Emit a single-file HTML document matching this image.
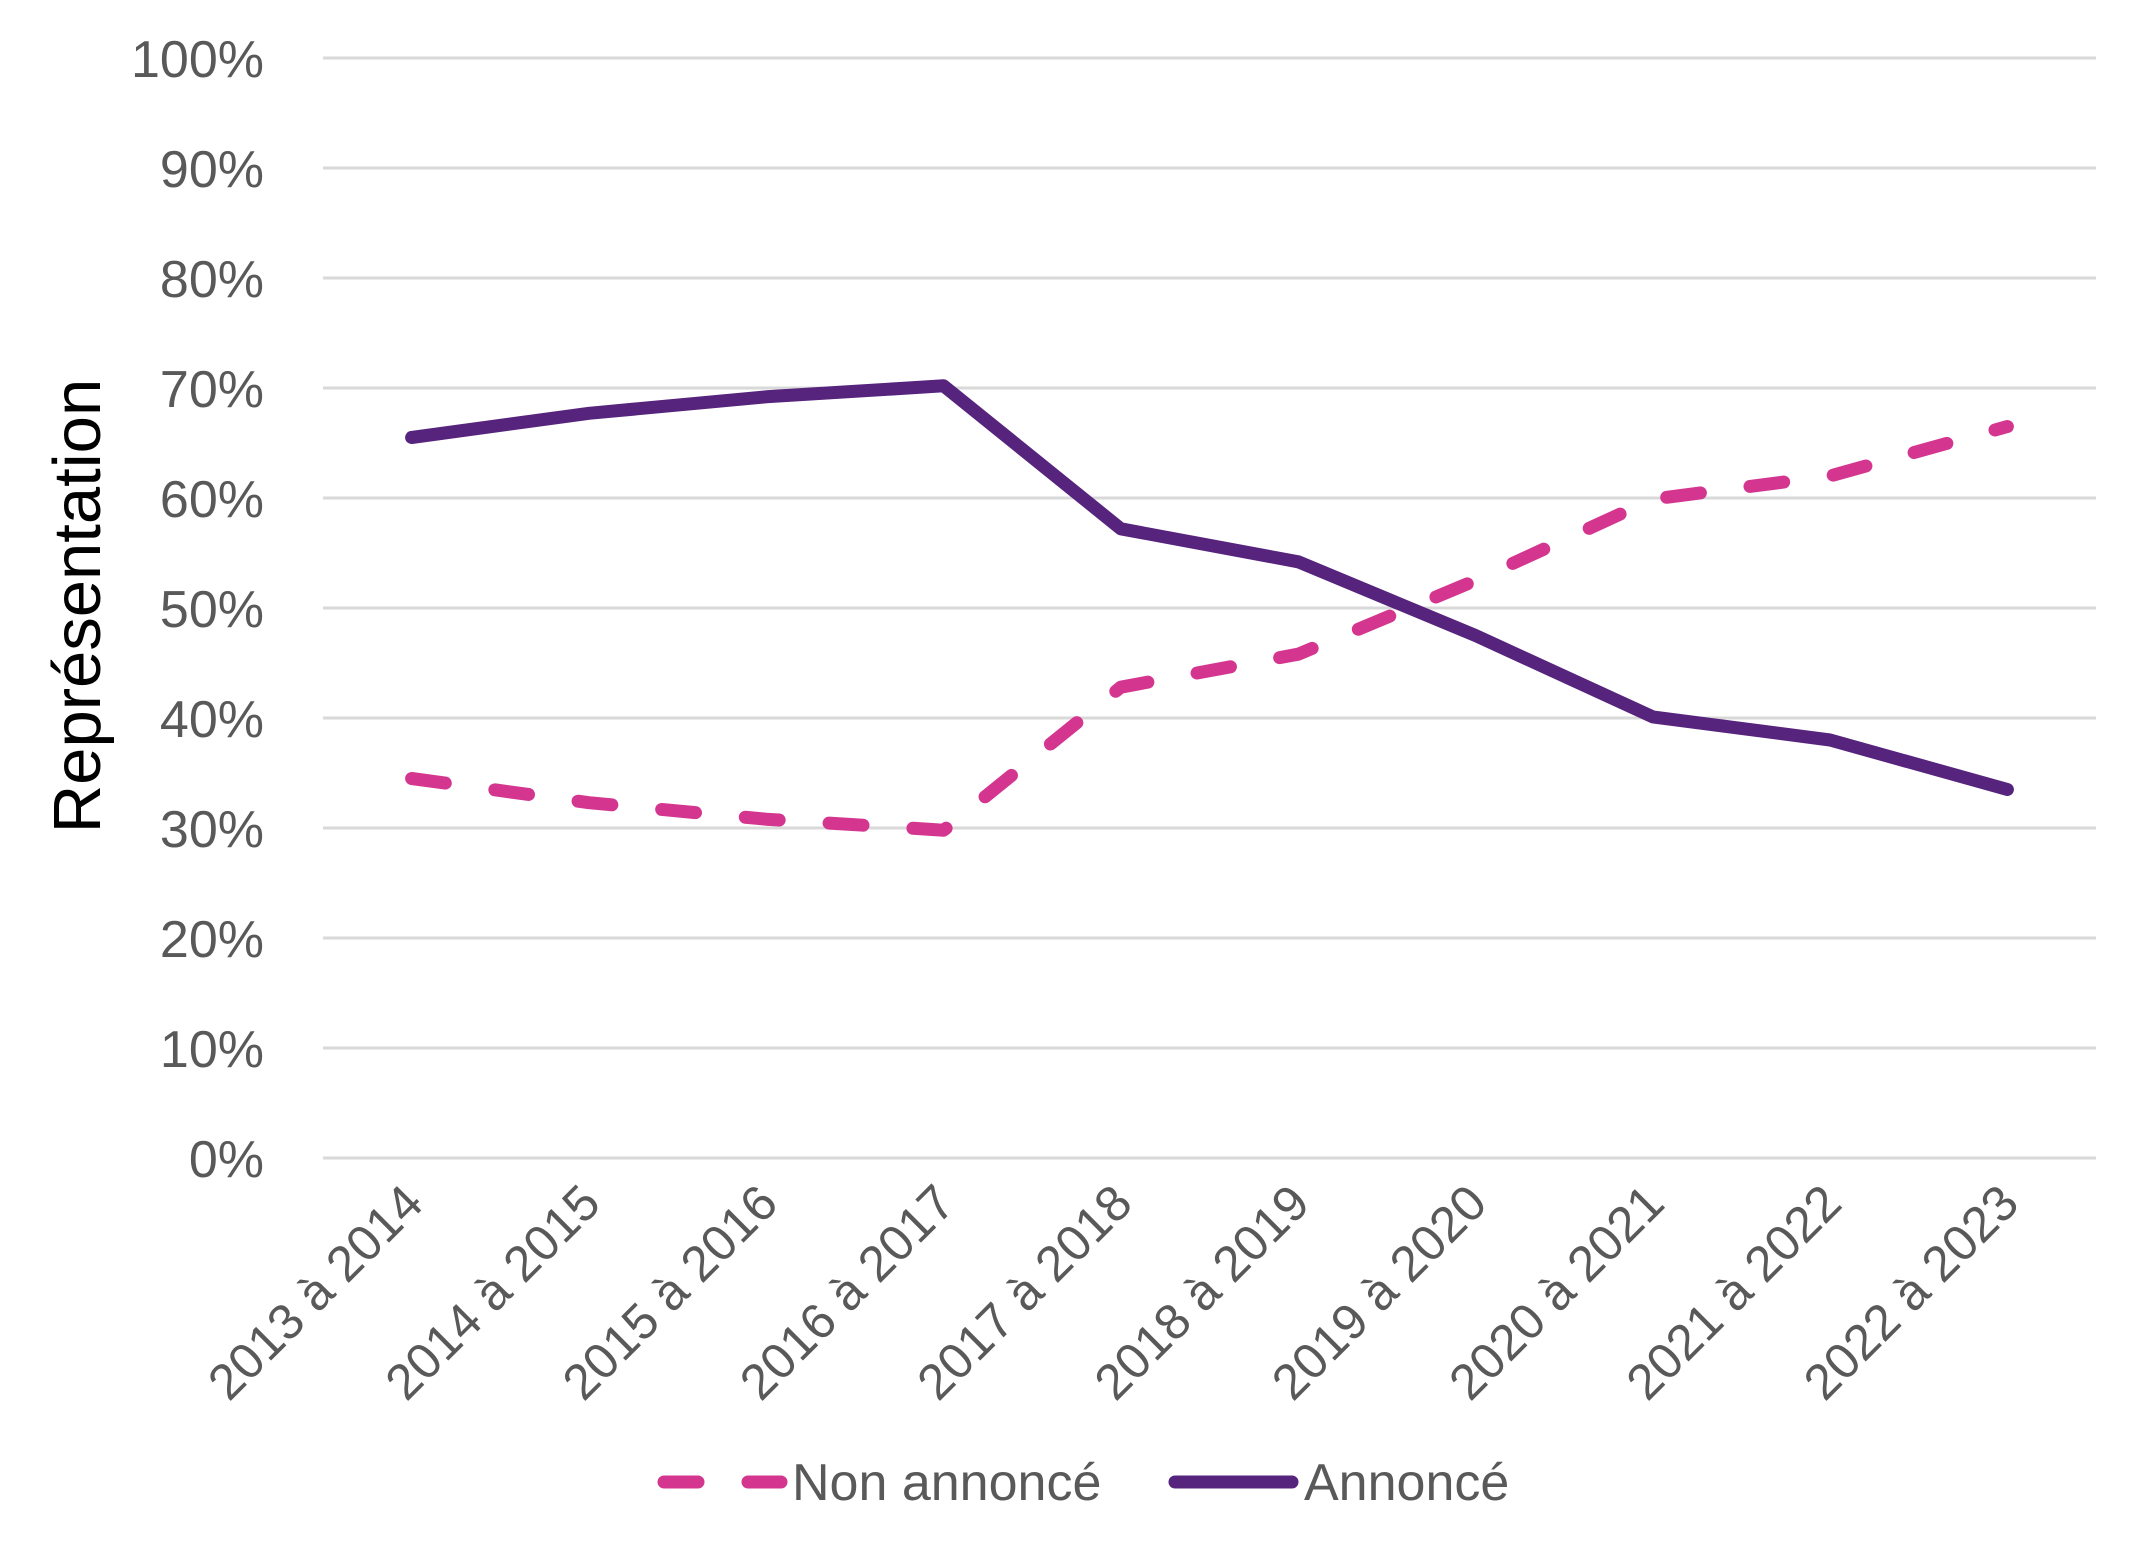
<!DOCTYPE html>
<html><head><meta charset="utf-8"><style>
html,body{margin:0;padding:0;background:#fff;}
svg{display:block;font-family:"Liberation Sans",sans-serif;}
</style></head><body>
<svg id="chart" width="2145" height="1558" viewBox="0 0 2145 1558" xmlns="http://www.w3.org/2000/svg">
<g id="grid"></g>
<g id="yticks"></g>
<g id="xticks"></g>
<g id="series"></g>
<text x="0" y="0" transform="translate(100,606) rotate(-90)" text-anchor="middle" font-size="67" fill="#000">Représentation</text>
<g>
<line x1="664" y1="1482" x2="781" y2="1482" stroke="#D4368F" stroke-width="13" stroke-linecap="round" stroke-dasharray="34 50"/>
<text x="792" y="1500" font-size="52" fill="#595959">Non annoncé</text>
<line x1="1175" y1="1482" x2="1292" y2="1482" stroke="#56237D" stroke-width="13" stroke-linecap="round"/>
<text x="1304" y="1500" font-size="52" fill="#595959">Annoncé</text>
</g>
</svg>
<script>
const categories = ["2013 à 2014","2014 à 2015","2015 à 2016","2016 à 2017","2017 à 2018","2018 à 2019","2019 à 2020","2020 à 2021","2021 à 2022","2022 à 2023"];
const nonAnnonce = [34.5,32.3,30.8,29.8,42.8,45.8,52.5,59.9,62.0,66.5];
const annonce = [65.5,67.7,69.2,70.2,57.2,54.2,47.5,40.1,38.0,33.5];
const yTicks = [0,10,20,30,40,50,60,70,80,90,100];

const NS="http://www.w3.org/2000/svg";
const X0=323, X1=2096, Y0=1158, Y100=58;
const band=(X1-X0)/categories.length;
function xPos(i){return X0+band*(i+0.5);}
function yPos(v){return Y0-(v/100)*(Y0-Y100);}
function mk(tag,attrs,parent){const e=document.createElementNS(NS,tag);for(const k in attrs)e.setAttribute(k,attrs[k]);parent.appendChild(e);return e;}

const grid=document.getElementById('grid'), yt=document.getElementById('yticks'), xt=document.getElementById('xticks'), ser=document.getElementById('series');
yTicks.forEach(v=>{
  const l=mk('line',{x1:X0,x2:X1,y1:yPos(v),y2:yPos(v),stroke:'#d9d9d9','stroke-width':3},grid);
  
  
  const t=mk('text',{x:264,y:yPos(v)+19,'text-anchor':'end','font-size':52,fill:'#595959'},yt);
  t.textContent=v+'%';
  
  
});
categories.forEach((c,i)=>{
  const x=xPos(i)+14, y=1206;
  const t=mk('text',{x:x,y:y,'text-anchor':'end','font-size':50,fill:'#595959',transform:`rotate(-45 ${x} ${y})`},xt);
  t.textContent=c;
  
  
});
function pts(arr){return arr.map((v,i)=>xPos(i).toFixed(1)+','+yPos(v).toFixed(1)).join(' ');}
const p1=mk('polyline',{points:pts(nonAnnonce),fill:'none',stroke:'#D4368F','stroke-width':13,'stroke-linecap':'round','stroke-linejoin':'round','stroke-dasharray':'34 50'},ser);


const p2=mk('polyline',{points:pts(annonce),fill:'none',stroke:'#56237D','stroke-width':13,'stroke-linecap':'round','stroke-linejoin':'round'},ser);


</script>
</body></html>
